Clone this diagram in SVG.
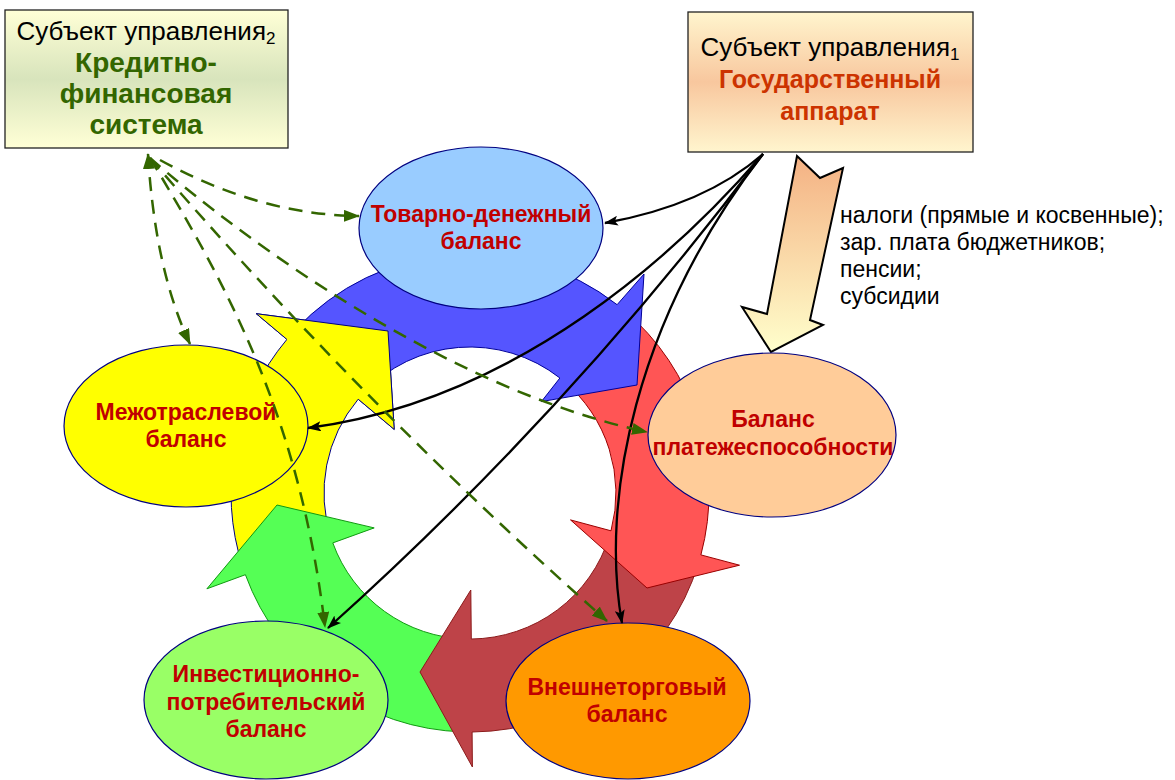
<svg xmlns="http://www.w3.org/2000/svg" width="1175" height="780" viewBox="0 0 1175 780">
<style>
.ell{stroke:#000080;stroke-width:1.2}
.et{font-family:"Liberation Sans",Arial,sans-serif;font-weight:bold;font-size:23px;fill:#C00000;text-anchor:middle}
.bt{font-family:"Liberation Sans",Arial,sans-serif;font-size:26px;fill:#000;text-anchor:middle}
.gt{font-family:"Liberation Sans",Arial,sans-serif;font-weight:bold;font-size:28px;fill:#336600;text-anchor:middle}
.rt{font-family:"Liberation Sans",Arial,sans-serif;font-weight:bold;font-size:25px;fill:#CC3300;text-anchor:middle}
.lt{font-family:"Liberation Sans",Arial,sans-serif;font-size:23px;fill:#000}
.blk{fill:none;stroke:#000;stroke-width:2.3;marker-end:url(#ab)}
.dsh{fill:none;stroke:#336600;stroke-width:2.5;stroke-dasharray:14 9;marker-end:url(#ag)}
</style>
<defs>
<linearGradient id="gBoxL" x1="0" y1="0" x2="0" y2="1">
<stop offset="0" stop-color="#FFFFD6"/><stop offset="0.5" stop-color="#D8E4BC"/><stop offset="1" stop-color="#FFFFD6"/>
</linearGradient>
<linearGradient id="gBoxR" x1="0" y1="0" x2="0" y2="1">
<stop offset="0" stop-color="#FFF5CE"/><stop offset="0.5" stop-color="#F8C79E"/><stop offset="1" stop-color="#FFF5CE"/>
</linearGradient>
<linearGradient id="gArr" x1="0" y1="0" x2="0" y2="1">
<stop offset="0" stop-color="#F4B183"/><stop offset="1" stop-color="#FFFFCC"/>
</linearGradient>
<marker id="ab" viewBox="0 0 14 10" refX="13" refY="5" markerWidth="14" markerHeight="10" markerUnits="userSpaceOnUse" orient="auto">
<path d="M0,0 L14,5 L0,10 L3,5 Z" fill="#000"/>
</marker>
<marker id="ag" viewBox="0 0 16 12" refX="15" refY="6" markerWidth="16" markerHeight="12" markerUnits="userSpaceOnUse" orient="auto-start-reverse">
<path d="M0,0 L16,6 L0,12 Z" fill="#336600"/>
</marker>
</defs>
<rect width="1175" height="780" fill="#fff"/>

<g id="ring">
<path id="arrow-yellow" d="M242.7,566.9 A239,239 0 0 1 286.9,339.4 L256.3,313.7 L388,331 L394.2,429.4 L358.2,399.2 A146,146 0 0 0 331.1,538.1 Z" fill="#FFFF00" stroke="#000080" stroke-width="1"/>
<path id="arrow-green" d="M463.7,731.9 A239,239 0 0 1 245.4,574.7 L206.9,588.8 L277,505 L374.2,527.9 L332.8,542.9 A146,146 0 0 0 466.2,639 Z" fill="#55FF55" stroke="#119911" stroke-width="1"/>
<path id="arrow-darkred" d="M698.6,562.9 A239,239 0 0 1 472.1,732 L472.4,767 L420,672 L470.8,590 L471.3,639 A146,146 0 0 0 609.6,535.7 Z" fill="#BE4348" stroke="#8B1A1A" stroke-width="1"/>
<path id="arrow-red" d="M623.6,309.9 A239,239 0 0 1 700.9,554.9 L739.5,565.2 L647,588 L570.5,519.9 L611,530.8 A146,146 0 0 0 563.8,381.2 Z" fill="#FF5555" stroke="#990000" stroke-width="1"/>
<path id="arrow-blue" d="M295.2,330 A239,239 0 0 1 617.1,304.7 L644,274 L637,385 L541.4,401.6 L559.9,378 A146,146 0 0 0 363.2,393.4 Z" fill="#5555FF" stroke="#000099" stroke-width="1"/>
<polygon points="286.9,339.4 256.3,313.7 388,331 394.2,429.4 358.2,399.2" fill="#FFFF00"/>
<polyline points="286.9,339.4 256.3,313.7 388,331 394.2,429.4 358.2,399.2" fill="none" stroke="#000080" stroke-width="1"/>
</g>

<g id="big-arrow">
<polygon points="797,156 820,178 843,168 810,320 823,325 771,352 742,307 767,314" fill="url(#gArr)" stroke="#000" stroke-width="2" stroke-linejoin="miter"/>
</g>

<g id="node-tovarno">
<ellipse class="ell" cx="481" cy="228" rx="122" ry="81" fill="#99CCFF"/>
<text class="et" x="481" y="222">Товарно-денежный</text>
<text class="et" x="481" y="249">баланс</text>
</g>
<g id="node-mezhotr">
<ellipse class="ell" cx="186" cy="426" rx="122" ry="81" fill="#FFFF00"/>
<text class="et" x="186" y="420">Межотраслевой</text>
<text class="et" x="186" y="447">баланс</text>
</g>
<g id="node-platezh">
<ellipse class="ell" cx="772" cy="435" rx="124" ry="82" fill="#FFCC99"/>
<text class="et" x="773" y="427">Баланс</text>
<text class="et" x="773" y="455">платежеспособности</text>
</g>
<g id="node-invest">
<ellipse class="ell" cx="266" cy="700" rx="122" ry="79" fill="#99FF66"/>
<text class="et" x="266" y="682">Инвестиционно-</text>
<text class="et" x="266" y="710">потребительский</text>
<text class="et" x="266" y="737">баланс</text>
</g>
<g id="node-vnesh">
<ellipse class="ell" cx="628" cy="701" rx="122" ry="78" fill="#FF9900"/>
<text class="et" x="627" y="695">Внешнеторговый</text>
<text class="et" x="627" y="722">баланс</text>
</g>

<g id="node-credit">
<rect x="5" y="10" width="283" height="138" fill="url(#gBoxL)" stroke="#222" stroke-width="1.3"/>
<text class="bt" x="146" y="40">Субъект управления<tspan font-size="17" dy="4">2</tspan></text>
<text class="gt" x="146" y="72">Кредитно-</text>
<text class="gt" x="146" y="103">финансовая</text>
<text class="gt" x="146" y="134">система</text>
</g>
<g id="node-gov">
<rect x="688" y="12" width="285" height="140" fill="url(#gBoxR)" stroke="#222" stroke-width="1.3"/>
<text class="bt" x="830" y="56">Субъект управления<tspan font-size="17" dy="4">1</tspan></text>
<text class="rt" x="830" y="88">Государственный</text>
<text class="rt" x="830" y="120">аппарат</text>
</g>

<g id="list-text">
<text class="lt" x="840" y="223">налоги (прямые и косвенные);</text>
<text class="lt" x="840" y="250">зар. плата бюджетников;</text>
<text class="lt" x="840" y="277">пенсии;</text>
<text class="lt" x="840" y="304">субсидии</text>
</g>

<g id="connectors">
<path class="blk" d="M763,154 Q705,205 605,223"/>
<path class="blk" d="M763,154 C680,250 520,400 308,428"/>
<path class="blk" d="M763,154 Q568,413 328,628"/>
<path class="blk" d="M763,154 C635,320 600,500 622,623"/>
<path class="dsh" d="M160,160 Q260,215 359,216"/>
<path class="dsh" d="M148,154 Q155,270 190,344" style="marker-start:url(#ag)"/>
<path class="dsh" d="M150,158 C230,290 300,420 325,627"/>
<path class="dsh" d="M150,158 Q363,405 607,621"/>
<path class="dsh" d="M150,158 C250,245 450,390 647,432"/>
</g>
</svg>
